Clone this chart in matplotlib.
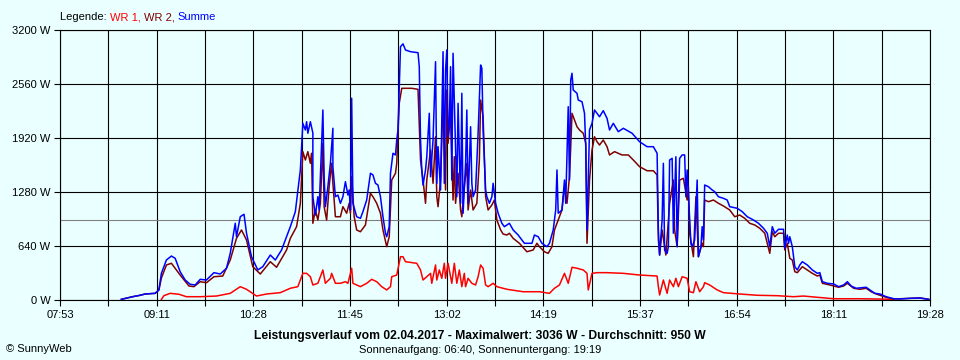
import matplotlib
matplotlib.use("Agg")
import matplotlib.pyplot as plt
import numpy as np

# times in minutes after midnight, power in W
sum_t = [522, 531, 537, 541, 549, 552, 554, 558, 562, 565, 569, 573, 577, 581, 585, 590, 596, 601, 606, 609,
         613, 614, 617, 620, 622, 626, 631, 635, 641, 645, 650, 657, 661, 665, 667, 669, 670, 671, 673, 675,
         675, 677, 679, 680, 681, 683, 684, 685, 687, 689, 691, 691, 693, 695, 697, 699, 701, 703, 704, 705,
         706, 707, 710, 713, 715, 718, 721, 723, 725, 727, 729, 731, 733, 734, 736, 737, 739, 741, 742, 743,
         745, 747, 749, 753, 759, 760, 761, 762, 763, 765, 766, 768, 769, 771, 773, 774, 775, 777, 779, 780,
         781, 782, 783, 784, 785, 786, 787, 789, 790, 791, 793, 794, 795, 797, 798, 799, 801, 802, 803, 805,
         807, 809, 810, 811, 813, 814, 816, 818, 819, 821, 823, 826, 828, 832, 835, 839, 844, 850, 852, 855,
         858, 862, 864, 867, 869, 870, 871, 874, 876, 877, 879, 880, 881, 882, 883, 886, 887, 890, 892, 893,
         894, 895, 896, 898, 900, 902, 904, 907, 910, 912, 915, 919, 923, 930, 936, 942, 947, 950, 951, 952,
         954, 955, 956, 958, 959, 960, 962, 963, 965, 966, 968, 970, 972, 973, 974, 976, 977, 978, 980, 982,
         983, 985, 986, 987, 988, 991, 994, 996, 999, 1003, 1006, 1008, 1014, 1018, 1022, 1027, 1031, 1035, 1038, 1040,
         1042, 1044, 1047, 1051, 1052, 1054, 1055, 1056, 1058, 1060, 1062, 1064, 1066, 1070, 1074, 1078, 1080, 1082, 1086, 1091,
         1095, 1099, 1102, 1105, 1109, 1117, 1120, 1124, 1128, 1133, 1139, 1144, 1152, 1160, 1167]
sum_w = [8, 39, 56, 71, 79, 119, 316, 474, 521, 494, 335, 237, 186, 178, 245, 237, 324, 308, 376, 553,
         909, 750, 987, 1016, 791, 513, 356, 395, 533, 474, 593, 869, 1047, 1541, 2094, 2015, 2113, 1976, 2113, 1979,
         1224, 1007, 1224, 1067, 1461, 2252, 1461, 1106, 1343, 1620, 2035, 1580, 1224, 1244, 1146, 1224, 1402, 1244, 1304, 1067,
         2391, 1146, 987, 968, 1047, 1185, 1502, 1482, 1383, 1363, 1224, 987, 791, 750, 869, 1502, 1739, 1719, 1896, 2015,
         3002, 3036, 2963, 2943, 2931, 2765, 1896, 1541, 1363, 1541, 1698, 2213, 1461, 1896, 2824, 1383, 1817, 1304, 2943, 1383,
         2726, 2963, 1935, 2094, 2765, 1422, 2924, 1817, 1224, 2331, 1146, 2450, 1028, 1620, 2252, 1146, 2054, 1383, 1224, 1304,
         1976, 2785, 2746, 2015, 1304, 1224, 1146, 1224, 1383, 1146, 1028, 909, 869, 909, 830, 770, 672, 672, 770, 750,
         672, 632, 672, 830, 1067, 1541, 1028, 1067, 1422, 1146, 2291, 1422, 2607, 2687, 2489, 2450, 2370, 2350, 2213, 1817,
         830, 1422, 2015, 2094, 2252, 2213, 2172, 2244, 2153, 2015, 2094, 1995, 2035, 1976, 1876, 1817, 1817, 1739, 830, 533,
         948, 1620, 593, 553, 632, 1659, 1679, 791, 1698, 632, 1679, 1719, 1719, 1224, 1541, 948, 672, 632, 711, 1422,
         513, 632, 869, 711, 1363, 1343, 1304, 1284, 1224, 1205, 1185, 1106, 1087, 1047, 987, 948, 909, 850, 791, 632,
         869, 791, 838, 838, 613, 770, 672, 750, 632, 395, 356, 415, 454, 415, 356, 316, 324, 217, 198, 190,
         158, 178, 217, 166, 139, 151, 119, 79, 71, 39, 15, 12, 20, 24, 8]

wr1_t = [554, 556, 561, 568, 574, 585, 598, 609, 617, 622, 630, 638, 649, 657, 663, 667, 670, 673, 675, 679,
         683, 685, 689, 690, 693, 697, 701, 703, 706, 707, 713, 718, 722, 726, 730, 734, 737, 738, 742, 745,
         747, 749, 758, 761, 763, 766, 769, 770, 773, 774, 776, 778, 780, 781, 783, 786, 788, 790, 792, 794,
         796, 797, 799, 802, 805, 807, 809, 811, 813, 815, 819, 822, 830, 843, 856, 864, 868, 872, 876, 879,
         882, 886, 891, 894, 895, 898, 902, 910, 923, 936, 950, 951, 952, 955, 958, 960, 963, 965, 967, 970,
         974, 976, 979, 981, 984, 987, 988, 992, 998, 1003, 1016, 1030, 1046, 1059, 1067, 1078, 1091, 1112, 1125, 1139]
wr1_w = [8, 51, 79, 68, 39, 39, 47, 79, 158, 127, 47, 71, 87, 139, 158, 316, 316, 276, 178, 198,
         356, 198, 257, 316, 198, 198, 217, 198, 376, 198, 158, 198, 245, 217, 158, 119, 158, 276, 296, 513,
         513, 454, 435, 356, 237, 276, 316, 198, 415, 237, 356, 257, 435, 257, 435, 198, 435, 198, 356, 158,
         316, 158, 257, 198, 178, 276, 415, 376, 178, 158, 198, 158, 127, 98, 98, 79, 139, 178, 316, 198,
         388, 376, 356, 316, 119, 316, 324, 324, 316, 296, 284, 158, 59, 237, 79, 237, 158, 257, 158, 276,
         257, 98, 87, 217, 98, 158, 205, 178, 119, 87, 71, 56, 51, 39, 47, 32, 15, 15, 12, 8]

wr2_t = [522, 531, 537, 541, 549, 552, 554, 558, 562, 569, 576, 580, 585, 590, 596, 603, 609, 614, 618, 622,
         627, 633, 641, 646, 654, 657, 662, 665, 667, 669, 671, 673, 674, 675, 677, 679, 681, 683, 684, 686,
         688, 690, 691, 693, 697, 699, 702, 704, 705, 706, 708, 710, 713, 717, 721, 723, 726, 729, 731, 734,
         736, 738, 741, 742, 744, 746, 749, 754, 759, 761, 763, 765, 766, 769, 771, 773, 774, 775, 777, 779,
         781, 782, 783, 785, 787, 788, 789, 791, 793, 794, 796, 798, 799, 801, 803, 806, 808, 809, 811, 813,
         815, 818, 820, 822, 825, 827, 830, 832, 835, 840, 846, 851, 854, 856, 860, 863, 866, 868, 871, 874,
         876, 878, 880, 881, 882, 884, 886, 888, 891, 893, 894, 896, 898, 900, 902, 904, 907, 910, 912, 916,
         922, 927, 931, 936, 942, 947, 950, 951, 952, 954, 957, 960, 963, 964, 966, 968, 971, 974, 975, 976,
         979, 981, 983, 986, 987, 988, 991, 995, 999, 1003, 1008, 1012, 1016, 1020, 1024, 1028, 1032, 1036, 1040, 1042,
         1044, 1047, 1051, 1052, 1054, 1056, 1058, 1060, 1062, 1066, 1070, 1074, 1078, 1080, 1082, 1088, 1095, 1099, 1102, 1107,
         1112, 1117, 1121, 1125, 1133, 1139, 1152, 1160, 1167]
wr2_w = [8, 39, 56, 71, 79, 119, 260, 415, 435, 296, 166, 158, 217, 205, 276, 284, 474, 731, 830, 711,
         395, 308, 454, 388, 593, 731, 869, 1146, 1758, 1659, 1758, 1620, 1739, 909, 1067, 948, 1146, 1857, 1106, 948,
         1343, 1620, 1383, 987, 987, 1106, 1028, 1146, 1028, 1461, 987, 830, 809, 889, 1265, 1224, 1146, 1028, 830, 632,
         750, 1422, 1502, 1620, 2331, 2509, 2509, 2509, 2497, 1659, 1422, 1146, 1422, 1778, 1383, 1935, 1224, 1106, 1422, 2350,
         1304, 2489, 1857, 2213, 1185, 1698, 1146, 1502, 1067, 987, 1343, 1620, 1067, 1304, 1067, 1146, 1659, 2370, 2172, 1224,
         1067, 1126, 1185, 948, 830, 782, 770, 791, 731, 672, 572, 593, 672, 632, 572, 553, 632, 830, 948, 1067,
         1343, 1146, 1461, 1817, 2213, 2133, 2054, 2015, 1976, 1857, 672, 1422, 1778, 1935, 1876, 1837, 1896, 1817, 1719, 1758,
         1719, 1719, 1659, 1580, 1532, 1532, 1482, 711, 533, 830, 533, 1146, 1422, 830, 632, 1422, 1442, 1185, 1343, 791,
         513, 1224, 513, 672, 632, 1185, 1165, 1185, 1146, 1114, 1067, 987, 1007, 968, 909, 889, 850, 791, 553, 809,
         750, 791, 791, 593, 672, 494, 474, 335, 324, 395, 356, 316, 284, 296, 198, 178, 151, 166, 198, 139,
         127, 139, 98, 71, 32, 12, 20, 24, 8]

zeit_labels = ["07:53", "09:11", "10:28", "11:45", "13:02", "14:19", "15:37", "16:54", "18:11", "19:28"]
y_ticks = [0, 640, 1280, 1920, 2560, 3200]
durchschnitt = 950
maximalwert = 3036
datum = "02.04.2017"
sonnenaufgang = "06:40"
sonnenuntergang = "19:19"

t_start, t_end = 7 * 60 + 53, 19 * 60 + 28

plt.rcParams['font.family'] = ['Liberation Sans', 'DejaVu Sans']
bg = '#eaffff'

fig = plt.figure(figsize=(9.6, 3.6), dpi=100, facecolor=bg)
ax = fig.add_axes([60 / 960, 60 / 360, 870 / 960, 270 / 360])
ax.set_facecolor(bg)

ax.set_xlim(t_start, t_end)
ax.set_ylim(0, 3200)
major = np.linspace(t_start, t_end, len(zeit_labels))
ax.set_xticks(major)
ax.set_xticklabels(zeit_labels)
ax.set_xticks((major[:-1] + major[1:]) / 2, minor=True)
ax.set_yticks(y_ticks)
ax.set_yticklabels([f"{v} W" for v in y_ticks])
ax.grid(True, which='both', color='black', lw=0.8)
ax.set_axisbelow(True)
ax.tick_params(which='both', direction='out', length=4, width=0.8, color='black', labelsize=8, pad=3)
for sp in ax.spines.values():
    sp.set_color('black')
    sp.set_linewidth(0.8)

ax.axhline(durchschnitt, color='#808080', lw=0.8, zorder=1.5)
ax.plot(wr1_t, wr1_w, color='#ff0000', lw=1.1)
ax.plot(wr2_t, wr2_w, color='#800000', lw=1.1)
ax.plot(sum_t, sum_w, color='#0000ff', lw=1.1)

# legend line at the top, coloured word by word
parts = [("Legende: ", 'black'), ("WR 1, ", '#ff0000'), ("WR 2, ", '#800000'), ("Summe", '#0000ff')]
prev = fig.text(60 / 960, 1 - 20 / 360, parts[0][0], color=parts[0][1], fontsize=8, va='baseline')
for s, c in parts[1:]:
    prev = ax.annotate(s, xy=(1, 0), xycoords=prev, color=c, fontsize=8, va='bottom',
                       annotation_clip=False)

fig.text(0.5, 1 - 336 / 360,
         f"Leistungsverlauf vom {datum} - Maximalwert: {maximalwert} W - Durchschnitt: {durchschnitt} W",
         ha='center', va='center', fontsize=8.7, fontweight='bold')
fig.text(0.5, 1 - 350 / 360, f"Sonnenaufgang: {sonnenaufgang}, Sonnenuntergang: {sonnenuntergang}",
         ha='center', va='center', fontsize=8)
fig.text(6 / 960, 1 - 349 / 360, "\u00a9 SunnyWeb", ha='left', va='center', fontsize=8)

fig.savefig("out.png", dpi=100, facecolor=bg)
